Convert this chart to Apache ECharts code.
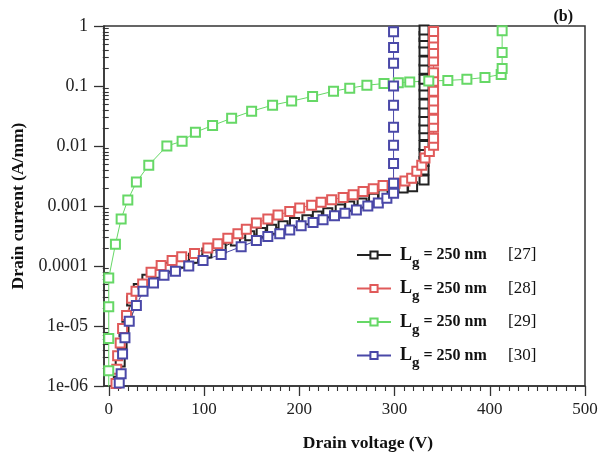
<!DOCTYPE html>
<html>
<head>
<meta charset="utf-8">
<script src="https://cdn.jsdelivr.net/npm/echarts@6/dist/echarts.min.js"></script>
<style>
  html, body { margin: 0; padding: 0; background: #fff; }
  #chart { width: 608px; height: 457px; }
</style>
</head>
<body>
<div id="chart"></div>
<script>
// drain voltage (V) / drain current (A/mm), one pair of arrays per reference
var v27 = [6, 10, 12, 14, 16, 19, 24, 31, 40, 50, 62, 75, 89, 103, 118, 133, 148, 160, 171, 183,
  195, 208, 219, 230, 243, 253, 266, 278, 288, 299, 309, 319,
  331, 331, 331, 331, 331, 331, 331, 331, 331, 331, 331, 331, 331, 331, 331, 331, 331, 331, 331];
var i27 = [6e-7, 1.2e-6, 2.5e-6, 5e-6, 8e-6, 1.4e-5, 2.6e-5, 4.2e-5, 6e-5, 7.6e-5,
  9.5e-5, 1.12e-4, 1.35e-4, 1.65e-4, 2.0e-4, 2.6e-4, 3.2e-4, 3.6e-4, 4.1e-4, 4.7e-4,
  5.3e-4, 5.9e-4, 6.8e-4, 7.7e-4, 8.9e-4, 1.0e-3, 1.12e-3, 1.35e-3, 1.54e-3, 1.74e-3, 2.0e-3, 2.1e-3,
  2.7e-3, 4.0e-3, 5.5e-3, 7.5e-3, 1.02e-2, 1.5e-2, 1.94e-2, 2.6e-2, 3.6e-2, 5.0e-2,
  7.3e-2, 0.1, 0.129, 0.19, 0.26, 0.38, 0.52, 0.67, 0.86];

var v28 = [5, 7.6, 8.4, 9.3, 12, 14.5, 18.7, 24, 28.6, 35.6,
  44.4, 55, 66.5, 76.6, 90, 104, 114.5, 125, 135.6, 144.4,
  155, 167, 177.7, 190, 200.5, 213, 223, 234, 246, 256.6,
  267, 277.7, 288, 300.5, 311, 318, 323.4, 328.6, 332, 336.6,
  341, 341, 341, 341, 341, 341, 341, 341, 341, 341, 341, 341, 341, 341];
var i28 = [6e-7, 1.1e-6, 1.9e-6, 3.2e-6, 5.2e-6, 9.1e-6, 1.5e-5, 2.9e-5, 3.8e-5, 5.0e-5,
  7.9e-5, 1.02e-4, 1.23e-4, 1.42e-4, 1.62e-4, 2.0e-4, 2.35e-4, 2.9e-4, 3.45e-4, 4.1e-4,
  5.2e-4, 6.1e-4, 7.1e-4, 8.1e-4, 9.3e-4, 1.03e-3, 1.15e-3, 1.27e-3, 1.39e-3, 1.54e-3,
  1.74e-3, 1.94e-3, 2.2e-3, 2.4e-3, 2.6e-3, 2.9e-3, 3.8e-3, 4.8e-3, 6.3e-3, 8.1e-3,
  1.03e-2, 1.35e-2, 2.05e-2, 2.8e-2, 4.1e-2, 5.6e-2, 8.2e-2, 0.12, 0.166, 0.26, 0.355, 0.49, 0.63, 0.81];

var v29 = [0, 0, 0, 0, 0, 7, 13, 20, 29, 42, 61, 77, 91, 109, 129, 150, 172, 192, 214, 236,
  253, 271, 289, 304, 316, 336, 356, 376, 395, 412, 413, 413, 413];
var i29 = [4e-7, 1.8e-6, 6.2e-6, 2.1e-5, 6.3e-5, 2.3e-4, 6.1e-4, 1.26e-3, 2.5e-3, 4.8e-3,
  1.0e-2, 1.2e-2, 1.7e-2, 2.2e-2, 2.9e-2, 3.8e-2, 4.8e-2, 5.6e-2, 6.7e-2, 8.2e-2,
  9.2e-2, 0.103, 0.11, 0.113, 0.117, 0.121, 0.124, 0.129, 0.139, 0.156, 0.195, 0.36, 0.83];

var v30 = [8, 11, 13, 14.5, 17, 21.5, 29, 36, 47, 58, 70, 84, 99, 118, 139, 155, 167, 179.5, 190, 202,
  214.5, 225, 237, 248, 260, 272, 283, 292, 299, 299, 299, 299, 299, 299, 299, 299, 299, 299];
var i30 = [6e-7, 1.12e-6, 1.6e-6, 3.4e-6, 6.4e-6, 1.2e-5, 2.2e-5, 3.8e-5, 5.2e-5, 7.0e-5,
  8.2e-5, 1.0e-4, 1.24e-4, 1.56e-4, 2.1e-4, 2.65e-4, 3.1e-4, 3.45e-4, 4.0e-4, 4.7e-4,
  5.3e-4, 5.9e-4, 6.9e-4, 7.6e-4, 8.6e-4, 1.0e-3, 1.12e-3, 1.35e-3,
  1.63e-3, 2.4e-3, 5.1e-3, 1.03e-2, 2.05e-2, 4.8e-2, 0.1, 0.24, 0.44, 0.8];

var refs = ['[27]', '[28]', '[29]', '[30]'];
var colors = ['#222222', '#e05a5a', '#66d866', '#4a48a8'];

var xMajor = [0, 100, 200, 300, 400, 500];
var xMinor = [10, 20, 30, 40, 50, 60, 70, 80, 90, 110, 120, 130, 140, 150, 160, 170, 180, 190,
  210, 220, 230, 240, 250, 260, 270, 280, 290, 310, 320, 330, 340, 350, 360, 370, 380, 390,
  410, 420, 430, 440, 450, 460, 470, 480, 490];
var yMajor = [1e-6, 1e-5, 1e-4, 1e-3, 1e-2, 1e-1, 1];
var yTickLabels = ['1e-06', '1e-05', '0.0001', '0.001', '0.01', '0.1', '1'];
var yMinor = [2e-6, 3e-6, 4e-6, 5e-6, 6e-6, 7e-6, 8e-6, 9e-6,
  2e-5, 3e-5, 4e-5, 5e-5, 6e-5, 7e-5, 8e-5, 9e-5,
  2e-4, 3e-4, 4e-4, 5e-4, 6e-4, 7e-4, 8e-4, 9e-4,
  2e-3, 3e-3, 4e-3, 5e-3, 6e-3, 7e-3, 8e-3, 9e-3,
  2e-2, 3e-2, 4e-2, 5e-2, 6e-2, 7e-2, 8e-2, 9e-2,
  0.2, 0.3, 0.4, 0.5, 0.6, 0.7, 0.8, 0.9];

var serif = '"Liberation Serif", "DejaVu Serif", serif';
var axisColor = '#333';

function zip(xs, ys) {
    return xs.map(function (x, k) { return [x, ys[k]]; });
}

var sets = [zip(v27, i27), zip(v28, i28), zip(v29, i29), zip(v30, i30)];

var series = sets.map(function (data, k) {
    return {
        name: refs[k],
        type: 'line',
        data: data,
        color: colors[k],
        symbol: 'emptyRect',
        symbolSize: 9,
        clip: true,
        lineStyle: { width: 1, color: colors[k] },
        itemStyle: { borderWidth: 1.2 }
    };
});

var chart = echarts.init(document.getElementById('chart'));

chart.setOption({
    animation: false,
    backgroundColor: '#fff',
    title: {
        text: '(b)',
        right: 30,
        top: 4,
        textStyle: { fontFamily: serif, fontWeight: 'bold', fontSize: 16, color: '#111' }
    },
    grid: {
        left: 104, right: 23, top: 26, bottom: 67,
        show: true, borderColor: axisColor, borderWidth: 1.5, containLabel: false
    },
    legend: {
        orient: 'vertical',
        left: 351,
        top: 241,
        itemWidth: 34,
        itemHeight: 9,
        itemGap: 9,
        data: refs,
        formatter: function (name) {
            return '{l|L}{g|g}{t| = 250 nm}{r|     ' + name + '}';
        },
        textStyle: {
            fontFamily: serif,
            color: '#111',
            rich: {
                l: { fontFamily: serif, fontWeight: 'bold', fontSize: 18, color: '#111', padding: [0, 0, 0, 4] },
                g: { fontFamily: serif, fontWeight: 'bold', fontSize: 15, color: '#111', padding: [16, 0, 0, 0] },
                t: { fontFamily: serif, fontWeight: 'bold', fontSize: 16, color: '#111' },
                r: { fontFamily: serif, fontSize: 17, color: '#111' }
            }
        }
    },
    xAxis: [{
        type: 'value',
        min: -5,
        max: 500,
        name: 'Drain voltage (V)',
        nameLocation: 'middle',
        nameGap: 48,
        nameTextStyle: { fontFamily: serif, fontWeight: 'bold', fontSize: 17.5, color: '#111', padding: [0, 0, 0, 47] },
        splitLine: { show: false },
        axisLine: { show: true, onZero: false, lineStyle: { color: axisColor, width: 1.5 } },
        axisTick: { show: true, length: 10, customValues: xMajor, lineStyle: { color: axisColor, width: 1.3 } },
        axisLabel: { customValues: xMajor, margin: 15, fontFamily: serif, fontSize: 17, color: '#222' }
    }, {
        type: 'value',
        min: -5,
        max: 500,
        position: 'bottom',
        splitLine: { show: false },
        axisLine: { show: false },
        axisTick: { show: true, length: 5, customValues: xMinor, lineStyle: { color: axisColor, width: 1.1 } },
        axisLabel: { show: false }
    }],
    yAxis: [{
        type: 'log',
        logBase: 10,
        min: 1e-6,
        max: 1,
        name: 'Drain current (A/mm)',
        nameLocation: 'middle',
        nameGap: 76,
        nameTextStyle: { fontFamily: serif, fontWeight: 'bold', fontSize: 17.5, color: '#111' },
        splitLine: { show: false },
        axisLine: { show: true, onZero: false, lineStyle: { color: axisColor, width: 1.5 } },
        axisTick: { show: true, length: 10, customValues: yMajor, lineStyle: { color: axisColor, width: 1.3 } },
        axisLabel: {
            customValues: yMajor,
            margin: 16,
            fontFamily: serif,
            fontSize: 18,
            color: '#222',
            formatter: function (value) {
                return yTickLabels[Math.round(Math.log10(value)) + 6];
            }
        }
    }, {
        type: 'log',
        logBase: 10,
        min: 1e-6,
        max: 1,
        position: 'left',
        splitLine: { show: false },
        axisLine: { show: false },
        axisTick: { show: true, length: 6, customValues: yMinor, lineStyle: { color: axisColor, width: 1.1 } },
        axisLabel: { show: false }
    }],
    series: series
});
</script>
</body>
</html>
